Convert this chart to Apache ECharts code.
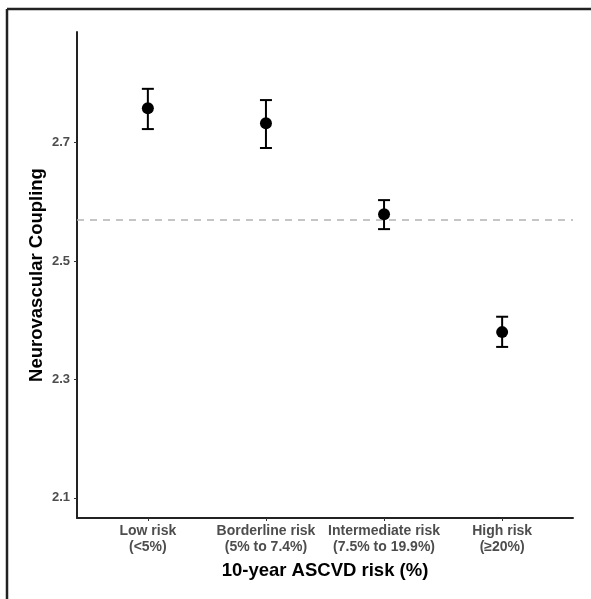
<!DOCTYPE html>
<html>
<head>
<meta charset="utf-8">
<script src="https://cdn.jsdelivr.net/npm/echarts@6/dist/echarts.min.js"></script>
<style>
  html, body { margin: 0; padding: 0; background: #fff; }
  #chart { width: 591px; height: 599px; }
</style>
</head>
<body>
<div id="chart"></div>
<script>
// categories (two-line labels)
const categories = [
  'Low risk\n(<5%)',
  'Borderline risk\n(5% to 7.4%)',
  'Intermediate risk\n(7.5% to 19.9%)',
  'High risk\n(≥20%)'
]
// group means and error bar limits
const means = [2.758, 2.733, 2.579, 2.380]
const lowers = [2.723, 2.691, 2.554, 2.355]
const uppers = [2.791, 2.772, 2.603, 2.406]
// overall reference line
const refLine = 2.571
// y tick labels
const yTicks = [2.1, 2.3, 2.5, 2.7]

const chart = echarts.init(document.getElementById('chart'))

const font = '"Liberation Sans", Arial, Helvetica, sans-serif'
const idx = categories.map((c, i) => i)

const option = {
  animation: false,
  backgroundColor: '#fff',
  grid: { left: 77, right: 18, top: 32, bottom: 81 },
  // outer frame (top + left edges only visible)
  graphic: [
    { type: 'line', shape: { x1: 7, y1: 9, x2: 591, y2: 9 }, style: { stroke: '#222', lineWidth: 2.5 } },
    { type: 'line', shape: { x1: 7, y1: 9, x2: 7, y2: 599 }, style: { stroke: '#222', lineWidth: 2.5 } }
  ],
  xAxis: {
    type: 'value',
    min: -0.6,
    max: 3.6,
    name: '10-year ASCVD risk (%)',
    nameLocation: 'middle',
    nameGap: 43,
    nameMoveOverlap: false,
    nameTextStyle: { fontFamily: font, fontWeight: 'bold', fontSize: 18.5, color: '#000' },
    axisLine: { show: true, onZero: false, lineStyle: { color: '#222', width: 2 } },
    axisTick: { show: true, length: 3, lineStyle: { color: '#333' }, customValues: idx },
    axisLabel: {
      customValues: idx,
      formatter: v => categories[Math.round(v)],
      fontFamily: font,
      fontWeight: 'bold',
      fontSize: 14,
      color: '#4d4d4d',
      lineHeight: 16,
      margin: 5
    },
    splitLine: { show: false }
  },
  yAxis: {
    type: 'value',
    min: 2.066,
    max: 2.887,
    name: 'Neurovascular Coupling',
    nameLocation: 'middle',
    nameGap: 31,
    nameMoveOverlap: false,
    nameTextStyle: { fontFamily: font, fontWeight: 'bold', fontSize: 18.5, color: '#000' },
    axisLine: { show: true, onZero: false, lineStyle: { color: '#222', width: 2 } },
    axisTick: { show: true, length: 3, lineStyle: { color: '#333' }, customValues: yTicks },
    axisLabel: {
      customValues: yTicks,
      formatter: v => v.toFixed(1),
      fontFamily: font,
      fontWeight: 'bold',
      fontSize: 13,
      color: '#4d4d4d',
      margin: 7
    },
    splitLine: { show: false }
  },
  series: [
    {
      type: 'custom',
      data: idx.map(i => [i, lowers[i], uppers[i]]),
      renderItem: (params, api) => {
        const x = api.value(0)
        const lo = api.coord([x, api.value(1)])
        const hi = api.coord([x, api.value(2)])
        const half = 6
        const style = { stroke: '#000', lineWidth: 2 }
        return {
          type: 'group',
          children: [
            { type: 'line', shape: { x1: lo[0], y1: lo[1], x2: hi[0], y2: hi[1] }, style },
            { type: 'line', shape: { x1: hi[0] - half, y1: hi[1], x2: hi[0] + half, y2: hi[1] }, style },
            { type: 'line', shape: { x1: lo[0] - half, y1: lo[1], x2: lo[0] + half, y2: lo[1] }, style }
          ]
        }
      },
      z: 3
    },
    {
      type: 'scatter',
      data: idx.map(i => [i, means[i]]),
      symbol: 'circle',
      symbolSize: 12,
      itemStyle: { color: '#000', opacity: 1 },
      z: 4,
      markLine: {
        silent: true,
        symbol: 'none',
        label: { show: false },
        lineStyle: { color: '#b3b3b3', type: [7, 6], width: 1.6 },
        data: [{ yAxis: refLine }],
        z: 1
      }
    }
  ]
}

chart.setOption(option)
</script>
</body>
</html>
